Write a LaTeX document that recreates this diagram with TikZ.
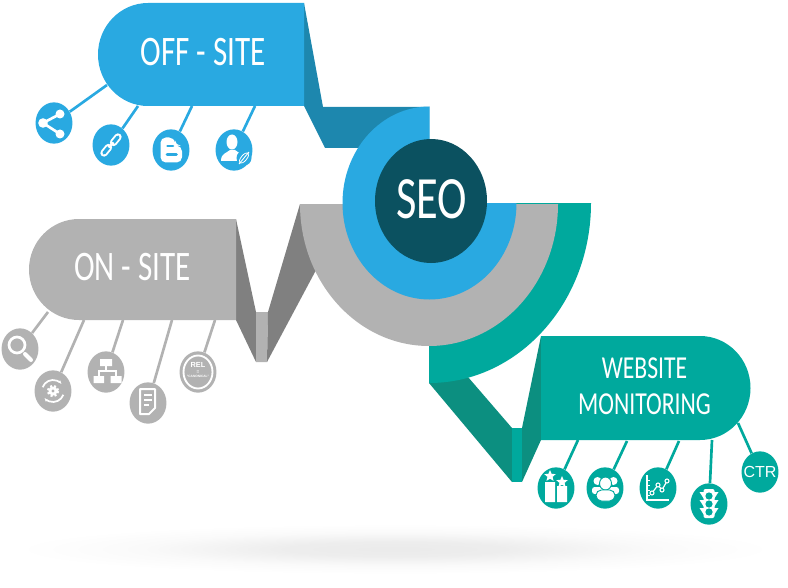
\documentclass[tikz,border=0pt]{standalone}
\usepackage{fontspec}
\setmainfont[FakeStretch=0.74]{Carlito}
\newfontfamily\ctrfont{Liberation Sans}
\usetikzlibrary{arrows.meta, shapes.geometric}
\definecolor{seoblue}{HTML}{29A9E1}
\definecolor{seofold}{HTML}{1D87AE}
\definecolor{seodark}{HTML}{0B5160}
\definecolor{seogray}{HTML}{B2B2B2}
\definecolor{seograyfold}{HTML}{808080}
\definecolor{seoteal}{HTML}{00A99D}
\definecolor{seotealfold}{HTML}{0C8F80}
\pgfdeclareradialshading{seoshadow}{\pgfpoint{0bp}{0bp}}{color(0bp)=(black!8); color(7bp)=(black!7); color(16bp)=(black!2); color(24bp)=(white); color(50bp)=(white)}

\begin{document}
\begin{tikzpicture}[
  x=0.75pt, y=-0.75pt,
  bubble/.style={ellipse, fill=#1, minimum width=27.7pt, minimum height=31pt, inner sep=0pt},
  link/.style={draw=#1, line width=2pt},
  title/.style={text=white, font=\fontsize{#1}{#1}\selectfont, align=center, inner sep=0pt},
  pics/shareicon/.style={code={
    \draw[white, line width=2pt] (6,-9) -- (-11,0) -- (6,11);
    \fill[white] (6,-9) circle (4.5) (-11,0) circle (4.8) (6,11) circle (4.5);
  }},
  pics/chainicon/.style={code={
    \draw[white, line width=5.5pt, line cap=round] (-7,8) -- (-2.5,2.5);
    \draw[seoblue, line width=2.6pt, line cap=round] (-7,8) -- (-2.5,2.5);
    \draw[white, line width=5.5pt, line cap=round] (2.5,-2.5) -- (7,-8);
    \draw[seoblue, line width=2.6pt, line cap=round] (2.5,-2.5) -- (7,-8);
    \draw[white, line width=1.8pt] (-2.5,2.5) -- (2.5,-2.5);
  }},
  pics/bloggericon/.style={code={
    \fill[white, rounded corners=4] (-10.5,-12.5) -- (3.5,-12.5) -- (4.5,-4.5) -- (11,-4) -- (11,12.5) -- (-10.5,12.5) -- cycle;
    \draw[seoblue, line width=1.9pt, line cap=round] (-3.5,-4) -- (2,-4) (-4,4.5) -- (5.5,4.5);
  }},
  pics/personicon/.style={code={
    \fill[white] (-2,-8) ellipse [x radius=5.5, y radius=7.5];
    \fill[white] (-13,11) .. controls (-13,3) and (-7,3) .. (-4,0) -- (1,0) .. controls (4,3) and (9,3) .. (11,8) -- (11,11) -- cycle;
    \fill[seoblue] (10,8) circle (7.5);
    \draw[white, line width=0.6pt, rotate around={-40:(10,8)}] (10,8) ellipse [x radius=2.8, y radius=6.5];
    \draw[white, line width=0.7pt] (5,14) -- (15,2);
  }},
  pics/lensicon/.style={code={
    \draw[white, line width=2pt] (-3,-4) circle (8);
    \draw[white, line width=3pt, line cap=round] (5,5) -- (11,11);
  }},
  pics/gearicon/.style={code={
    \draw[white, line width=2pt, dash pattern=on 1.6pt off 1.4pt] (0,0) circle (5);
    \fill[white] (0,0) circle (4.5);
    \fill[seogray] (0,0) circle (1.6);
    \draw[white, line width=1.3pt, -{Stealth[length=3pt]}] (200:11) arc [start angle=200, end angle=320, radius=11];
    \draw[white, line width=1.3pt, -{Stealth[length=3pt]}] (20:11) arc [start angle=20, end angle=140, radius=11];
  }},
  pics/sitemapicon/.style={code={
    \fill[white] (-6,-13) rectangle (6,-6) (-12.5,4) rectangle (-2,11) (4.5,4) rectangle (15.5,11);
    \draw[white, line width=1pt] (0,-6) -- (0,-1) (-7,4) -- (-7,-1) -- (10,-1) -- (10,4);
  }},
  pics/docicon/.style={code={
    \draw[white, line width=1.5pt, line join=round] (-8,-14) -- (7,-14) -- (7,5) -- (1,11) -- (-8,11) -- cycle;
    \draw[white, line width=1.5pt] (-4,-8.5) -- (4,-8.5) (-4,-3) -- (4,-3) (-4,2) -- (1,2);
  }},
  pics/relicon/.style={code={
    \draw[white, line width=1.4pt] (0,0) ellipse [x radius=14.5, y radius=16.5];
    \node (reltext) [text=white, inner sep=0pt, font=\ctrfont\bfseries\fontsize{5.5}{5.5}\selectfont] at (0,-7) {REL};
    \node (releq) [text=white, inner sep=0pt, font=\ctrfont\bfseries\fontsize{3.5}{3.5}\selectfont] at (0,0) {=};
    \node (relcanon) [text=white, inner sep=0pt, font=\ctrfont\bfseries\fontsize{2.4}{2.4}\selectfont] at (0,4.5) {"CANONICAL"};
  }},
  pics/ranksicon/.style={code={
    \fill[white] (-11,-6) rectangle (-1,14) (1,-2) rectangle (11,14);
    \node (rankstara) [star, star points=5, star point ratio=2.2, fill=white, minimum size=9pt, inner sep=0pt] at (-6,-12) {};
    \node (rankstarb) [star, star points=5, star point ratio=2.2, fill=white, minimum size=9pt, inner sep=0pt] at (6,-6) {};
  }},
  pics/groupicon/.style={code={
    \fill[white] (-7.5,-7) circle (4) (8.5,-7) circle (4);
    \fill[white, rounded corners=2] (-13,6) -- (-13,-1) -- (14,-1) -- (14,6) -- cycle;
    \fill[white, draw=seoteal, line width=0.7pt] (0.5,-4.5) ellipse [x radius=6, y radius=6.5];
    \fill[white, draw=seoteal, line width=0.7pt, rounded corners=4] (-9,13) -- (-9,2) -- (10,2) -- (10,13) -- cycle;
  }},
  pics/charticon/.style={code={
    \draw[white, line width=0.9pt] (-11,-13) -- (-11,12) -- (11,12);
    \foreach \ticky in {-8,-3,2,7} \draw[white, line width=0.7pt] (-11,\ticky) -- (-8.5,\ticky);
    \draw[white, line width=0.9pt] (-6,5) -- (0,-3) -- (4,2) -- (9,-7);
    \foreach \pointx/\pointy in {-6/5, 0/-3, 4/2, 9/-7} \fill[seoteal, draw=white, line width=0.8pt] (\pointx,\pointy) circle (2);
  }},
  pics/trafficicon/.style={code={
    \fill[white, rounded corners=1.5] (-5.5,-15) rectangle (5.5,14);
    \fill[white] (-5,-12) -- (-9.5,-12) -- (-5,-5) -- cycle (5,-12) -- (9.5,-12) -- (5,-5) -- cycle;
    \fill[white] (-5,-4) -- (-9.5,-4) -- (-5,3) -- cycle (5,-4) -- (9.5,-4) -- (5,3) -- cycle;
    \fill[white] (-5,4) -- (-9.5,4) -- (-5,11) -- cycle (5,4) -- (9.5,4) -- (5,11) -- cycle;
    \fill[seoteal] (0,-8) circle (3.6) (0,0) circle (3.6) (0,8) circle (3.6);
  }},
]
\useasboundingbox (0,0) rectangle (788,588);

% shadow under everything
\shade[shading=seoshadow] (395,549) ellipse [x radius=395, y radius=26];

% folds
\fill[seofold] (304,3) -- (323,107) -- (429,107) -- (429,148) -- (325,148) -- (304,106) -- cycle;
\fill[seograyfold] (236,219) -- (256,312) -- (256,362) -- (236,320) -- cycle;
\fill[seogray] (256,312) -- (268,312) -- (267,362) -- (256,362) -- cycle;
\fill[seograyfold] (268,312) -- (300,204) -- (340,204) -- (340,240) -- (315,272) -- (267,362) -- cycle;
\fill[seotealfold] (429,383) -- (429,360) -- (468,370) -- (468,377) -- (512,428) -- (512,482) -- cycle;
\fill[seoteal] (512,428) -- (522,428) -- (522,482) -- (512,482) -- cycle;
\fill[seotealfold] (522,428) -- (541,336) -- (541,440) -- (522,482) -- cycle;

% rings
\fill[seoteal] (591,203) arc [start angle=0, end angle=90, x radius=162, y radius=180] -- (429,203) -- cycle;
\fill[seogray] (300,204) arc [start angle=180, end angle=0, x radius=129, y radius=142] -- cycle;
\fill[seoblue] (429.5,203) -- (429.5,106.5) arc [start angle=-90, end angle=-360, x radius=87, y radius=96.5] -- cycle;
\node[ellipse, fill=seodark, minimum width=84pt, minimum height=93pt, inner sep=0pt] (seo) at (431,201) {};
\node[title=45] (seotext) at (432,199) {SEO};

% pills
\fill[seoblue] (304,3) -- (148,3) arc [start angle=-90, end angle=-270, x radius=50, y radius=51.5] -- (304,106) -- cycle;
\fill[seogray] (236,219) -- (79,219) arc [start angle=-90, end angle=-270, x radius=50, y radius=50.5] -- (236,320) -- cycle;
\fill[seoteal] (541,336) -- (700,336) arc [start angle=-90, end angle=90, x radius=50.5, y radius=52] -- (541,440) -- cycle;
\node[title=31.5] (offsite) at (203,52) {OFF - SITE};
\node[title=31.5] (onsite) at (132.5,267) {ON - SITE};
\node[title=24] (monitor) at (644.5,386) {WEBSITE\\[3pt]MONITORING};

% off-site
\coordinate (offa) at (107,85);
\coordinate (offb) at (138,106);
\coordinate (offc) at (192,106);
\coordinate (offd) at (255,106);
\node[bubble=seoblue] (share) at (54,123) {};
\node[bubble=seoblue] (chain) at (111,145) {};
\node[bubble=seoblue] (blogger) at (171,150) {};
\node[bubble=seoblue] (person) at (234,150) {};
\draw[link=seoblue] (offa) -- (share);
\draw[link=seoblue] (offb) -- (chain);
\draw[link=seoblue] (offc) -- (blogger);
\draw[link=seoblue] (offd) -- (person);
\pic at (share) {shareicon};
\pic at (chain) {chainicon};
\pic at (blogger) {bloggericon};
\pic at (person) {personicon};

% on-site
\coordinate (ona) at (48,312);
\coordinate (onb) at (84,320);
\coordinate (onc) at (123,320);
\coordinate (ond) at (172,320);
\coordinate (one) at (215,320);
\node[bubble=seogray] (lens) at (20,349) {};
\node[bubble=seogray] (gear) at (53,391) {};
\node[bubble=seogray] (sitemap) at (106,372) {};
\node[bubble=seogray] (doc) at (148,403) {};
\node[bubble=seogray] (rel) at (198,372) {};
\draw[link=seogray] (ona) -- (lens);
\draw[link=seogray] (onb) -- (gear);
\draw[link=seogray] (onc) -- (sitemap);
\draw[link=seogray] (ond) -- (doc);
\draw[link=seogray] (one) -- (rel);
\pic at (lens) {lensicon};
\pic at (gear) {gearicon};
\pic at (sitemap) {sitemapicon};
\pic at (doc) {docicon};
\pic at (rel) {relicon};

% monitoring
\coordinate (mona) at (578,440);
\coordinate (monb) at (627,441);
\coordinate (monc) at (679,441);
\coordinate (mond) at (712,440);
\coordinate (mone) at (738,423);
\node[bubble=seoteal] (ranks) at (556,488) {};
\node[bubble=seoteal] (group) at (605,488) {};
\node[bubble=seoteal] (chart) at (658,488) {};
\node[bubble=seoteal] (traffic) at (709,504) {};
\node[bubble=seoteal] (ctr) at (760,472) {};
\draw[link=seoteal] (mona) -- (ranks);
\draw[link=seoteal] (monb) -- (group);
\draw[link=seoteal] (monc) -- (chart);
\draw[link=seoteal] (mond) -- (traffic);
\draw[link=seoteal] (mone) -- (ctr);
\pic at (ranks) {ranksicon};
\pic at (group) {groupicon};
\pic at (chart) {charticon};
\pic at (traffic) {trafficicon};
\node[text=white, inner sep=0pt, font=\ctrfont\fontsize{12}{12}\selectfont] (ctrtext) at (ctr) {CTR};
\end{tikzpicture}
\end{document}
